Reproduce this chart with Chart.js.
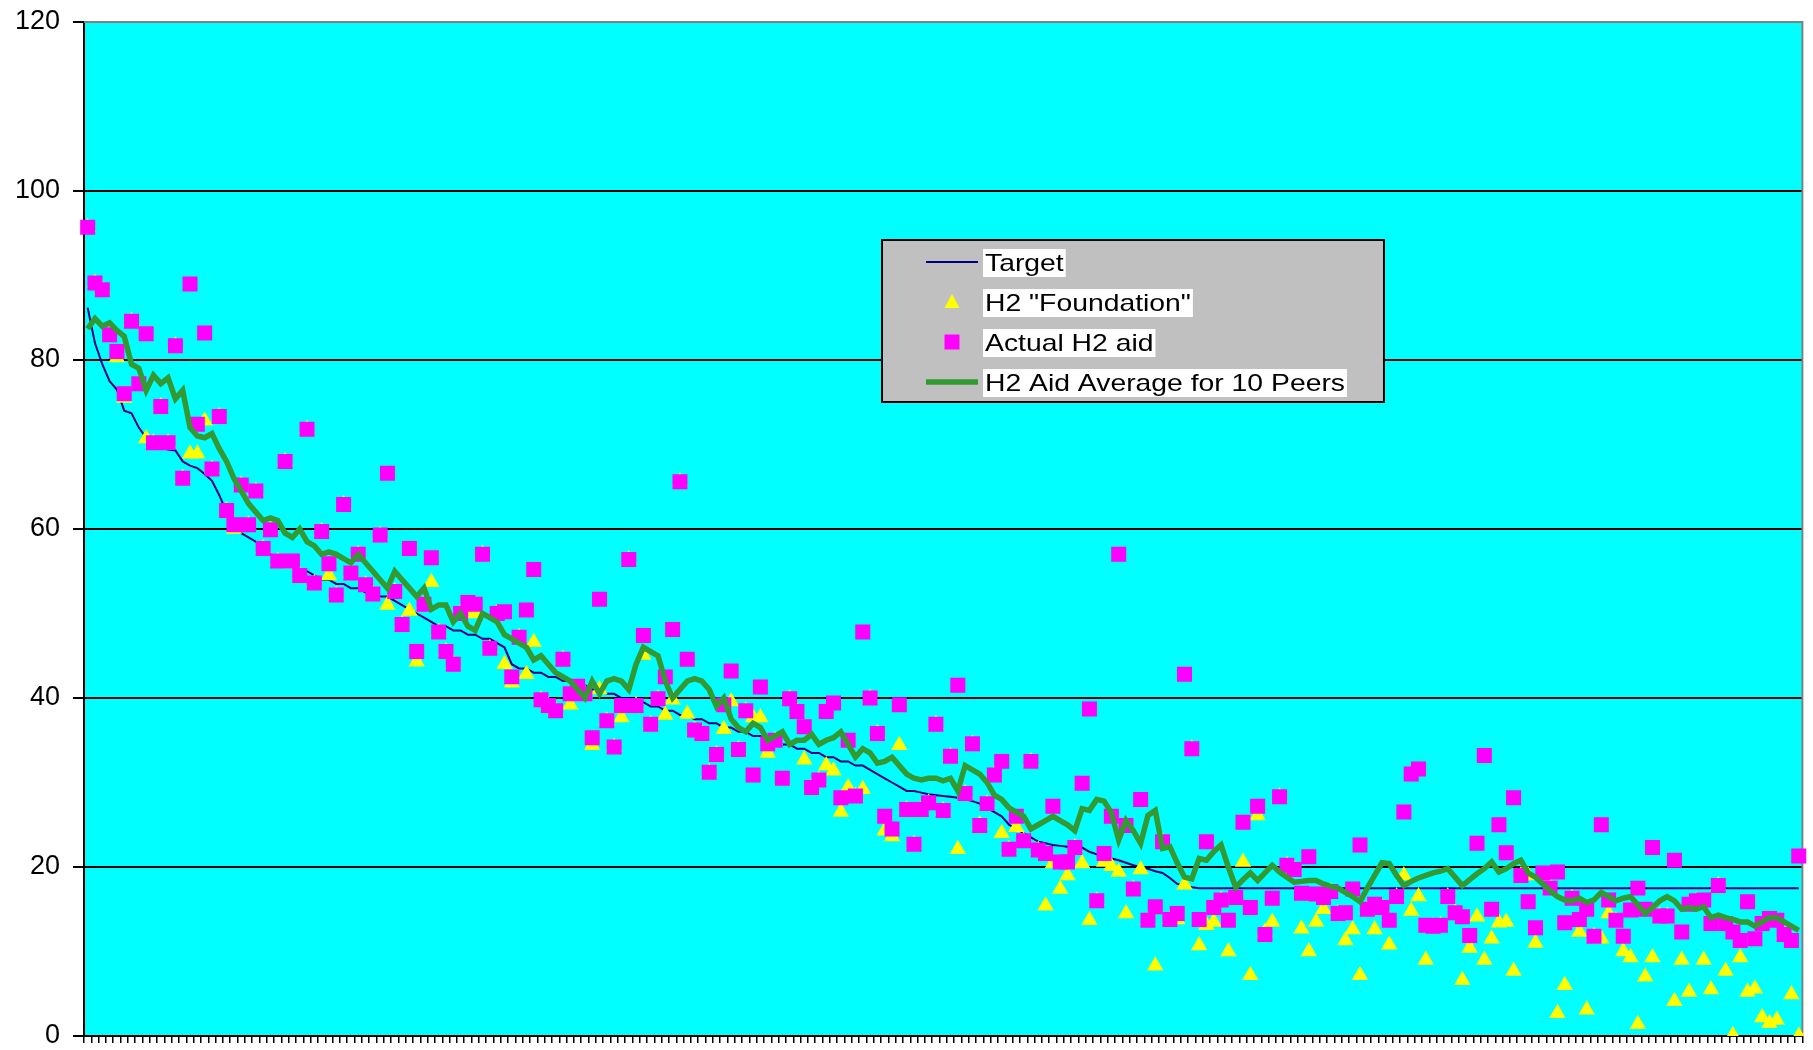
<!DOCTYPE html>
<html>
<head>
<meta charset="utf-8">
<script src="https://cdn.jsdelivr.net/npm/chart.js@4.4.1/dist/chart.umd.min.js"></script>
<style>
html,body{margin:0;padding:0;background:#ffffff;overflow:hidden;}
#wrap{width:1813px;height:1050px;position:relative;}
</style>
</head>
<body>
<div id="wrap"><canvas id="c"></canvas></div>
<script>
// ---------------- DATA ----------------
const seriesNames = ['Target', 'H2 "Foundation"', 'Actual H2 aid', 'H2 Aid Average for 10 Peers'];
const yTicks = [0, 20, 40, 60, 80, 100, 120];

const target = [
86.2, 82, 79.5, 77.5, 76.5, 74, 73.7, 72, 70.8, 70,
69.6, 69.4, 69.3, 68, 67.5, 67.2, 66.5, 65.7, 64, 62,
60.5, 59.5, 59, 58.5, 57.5, 57, 56.5, 56, 55.5, 55,
55, 54.5, 54, 54, 53.5, 53.5, 53, 53, 52.5, 52.5,
52, 52, 51.5, 51, 50.5, 50, 49.5, 49, 48.5, 48.5,
48, 48, 47.5, 47.5, 47, 47, 46.5, 46, 44, 43.5,
43.5, 43, 43, 42.5, 42.5, 42, 42, 41.5, 41.5, 41,
41, 40.5, 40.5, 40, 40, 39.5, 39.5, 39, 39, 38.5,
38.5, 38, 38, 37.5, 37.5, 37, 37, 36.5, 36.5, 36,
36, 35.5, 35.5, 35, 35, 34.5, 34.5, 34, 34, 33.5,
33.5, 33, 33, 32.5, 32.5, 32, 32, 31.5, 31, 30.5,
30, 29.5, 29, 29, 28.8, 28.6, 28.5, 28.4, 28.3, 28.2,
28, 27.8, 27.5, 27, 26.5, 26, 25, 24.5, 24, 23.5,
23, 22.8, 22.6, 22.5, 22.4, 22.3, 22.3, 21.8, 21.5, 21.2,
21, 20.8, 20.5, 20.2, 20, 19.8, 19.5, 19.3, 18.7, 18,
17.8, 17.6, 17.5, 17.5, 17.5, 17.5, 17.5, 17.5, 17.5, 17.5,
17.5, 17.5, 17.5, 17.5, 17.5, 17.5, 17.5, 17.5, 17.5, 17.5,
17.5, 17.5, 17.5, 17.5, 17.5, 17.5, 17.5, 17.5, 17.5, 17.5,
17.5, 17.5, 17.5, 17.5, 17.5, 17.5, 17.5, 17.5, 17.5, 17.5,
17.5, 17.5, 17.5, 17.5, 17.5, 17.5, 17.5, 17.5, 17.5, 17.5,
17.5, 17.5, 17.5, 17.5, 17.5, 17.5, 17.5, 17.5, 17.5, 17.5,
17.5, 17.5, 17.5, 17.5, 17.5, 17.5, 17.5, 17.5, 17.5, 17.5,
17.5, 17.5, 17.5, 17.5, 17.5, 17.5, 17.5, 17.5, 17.5, 17.5,
17.5, 17.5, 17.5, 17.5, 17.5
];

const foundation = [
95.7, 89.1, 88.3, 83, 80.3, 75.5, 84.6, 77.2, 70.7, 70.2,
74.5, 70.2, 81.7, 66, 68.9, 68.9, 72.8, 67.1, 73.3, 62.2,
60, 65.2, 60.5, 64.5, 57.7, 59.9, 56.2, 68, 55.9, 54.5,
71.8, 53.6, 59.7, 54.5, 52.2, 62.9, 54.8, 57, 53.4, 52.3,
59.3, 51, 52.6, 48.7, 50.3, 44.3, 51.1, 53.7, 47.8, 45.5,
44, 50, 50.4, 50, 57, 45.9, 50, 44, 41.8, 47.2,
42.8, 46.6, 39.8, 39.1, 38.5, 44.6, 39.2, 41, 40.5, 34.4,
41, 37.3, 34.2, 37.7, 56.4, 39.1, 45.1, 36.9, 39.9, 38,
39.8, 65.6, 38.1, 36.2, 35.8, 31.2, 33.3, 36.3, 39.6, 33.9,
38.5, 37.7, 37.7, 33.5, 35, 30.3, 39.9, 38.4, 32.7, 29.4,
30.3, 32, 31.4, 26.5, 29.4, 28.4, 29.2, 40, 35.8, 24.3,
23.6, 34.4, 26.8, 22.7, 26.8, 27.6, 36.9, 26.7, 33.1, 22.1,
28.7, 34.6, 25, 27.5, 30.9, 24, 22.1, 24.7, 23.1, 32.5,
22, 15.4, 20.4, 17.4, 19, 22.3, 20.4, 13.7, 16, 20.6,
20.1, 19.4, 14.5, 17.4, 19.7, 13.7, 8.3, 23, 13.8, 13.8,
17.9, 34, 10.7, 13.1, 13.5, 16.1, 10, 16.4, 20.6, 7.2,
26.1, 12.3, 13.5, 28.3, 20.2, 19.7, 12.7, 10, 13.5, 15,
17.1, 14.5, 11.3, 12.6, 7.2, 15, 12.6, 15.2, 10.8, 16.5,
19, 14.8, 16.5, 9, 13, 13.1, 16.5, 14.6, 6.6, 10.4,
14.1, 9, 11.5, 13.4, 13.5, 7.7, 19, 19, 11, 19,
17.5, 2.7, 6, 16.3, 12.3, 3.1, 11.8, 11.5, 14.5, 13.7,
10, 9.3, 1.4, 7, 9.3, 14.2, 14.2, 4.1, 9, 5.2,
16, 9, 5.5, 17.8, 7.7, 0.1, 9.3, 5.2, 5.6, 2.2,
1.5, 1.9, 12, 4.9, 0
];

const actual = [
95.7, 89.1, 88.3, 83, 81, 76, 84.6, 77.2, 83.1, 70.2,
74.5, 70.2, 81.7, 66, 89, 72.4, 83.2, 67.1, 73.3, 62.2,
60.5, 65.2, 60.5, 64.5, 57.7, 59.9, 56.2, 68, 56.2, 54.5,
71.8, 53.6, 59.7, 55.9, 52.2, 62.9, 54.8, 57, 53.4, 52.3,
59.3, 66.6, 52.6, 48.7, 57.7, 45.5, 51.1, 56.6, 47.8, 45.5,
44, 50, 51.3, 51.1, 57, 45.9, 50, 50.2, 42.5, 47.2,
50.4, 55.2, 39.8, 39.1, 38.5, 44.6, 40.5, 41.4, 40.5, 35.3,
51.7, 37.3, 34.2, 39.1, 56.4, 39.1, 47.4, 36.9, 39.9, 42.5,
48.1, 65.6, 44.6, 36.2, 35.8, 31.2, 33.3, 39.2, 43.2, 33.9,
38.5, 30.9, 41.3, 34.6, 35, 30.5, 39.9, 38.4, 36.6, 29.4,
30.3, 38.4, 39.4, 28.2, 35, 28.4, 47.8, 40, 35.8, 26,
24.5, 39.2, 26.8, 22.7, 26.8, 27.6, 36.9, 26.7, 33.1, 41.5,
28.7, 34.6, 24.9, 27.5, 30.9, 32.5, 22.1, 26, 23.1, 32.5,
22, 21.6, 27.2, 20.6, 20.6, 22.3, 29.9, 38.7, 16, 21.6,
26, 57, 24.9, 17.4, 28, 13.7, 15.3, 23, 13.8, 14.5,
42.8, 34, 13.8, 23, 15.2, 16.1, 13.7, 16.4, 25.3, 15.2,
27.2, 12, 16.3, 28.3, 20.2, 19.7, 16.9, 21.2, 16.8, 16.4,
17.1, 14.5, 14.6, 17.4, 22.6, 15, 15.6, 15.2, 13.7, 16.5,
26.5, 31, 31.6, 13.1, 13, 13.1, 16.5, 14.6, 14.1, 11.9,
22.8, 33.2, 15, 25, 21.7, 28.2, 19, 15.9, 12.8, 19.3,
17.5, 19.4, 13.4, 16.3, 13.8, 15, 11.8, 25, 16.1, 13.7,
11.8, 14.9, 17.5, 15, 22.3, 14.2, 14.2, 20.8, 12.3, 15.6,
16, 16.1, 13.3, 17.8, 13.3, 12.3, 11.3, 15.9, 11.5, 13.3,
13.9, 13.7, 12, 11.3, 21.3
];

const average = [
83.7, 84.9, 84, 84.4, 83.5, 82.8, 79.5, 79, 76.4, 78.2,
77.2, 77.9, 75.4, 76.4, 72, 71, 70.8, 71.3, 69.5, 68,
66, 64.5, 63, 62, 61, 61.3, 61, 59.5, 59, 60,
58.5, 58, 57, 57.3, 57, 56.5, 56, 57, 56, 55,
54, 53, 55, 54, 53, 52, 53, 50.5, 51, 51,
49, 50, 48.5, 48, 50, 49.5, 49, 47.5, 47, 46.5,
46, 44.5, 45, 44, 43, 42.5, 42, 41, 40, 42,
40.5, 42, 42.3, 42, 41, 44, 46, 45.5, 45, 42,
40, 41, 42, 42.3, 42, 41, 39, 40, 37.5, 36.5,
36, 37, 36.5, 35, 35.5, 36, 34.5, 35, 35, 35.7,
34.5, 35, 35.3, 36, 34.5, 33, 34, 33.5, 32.3, 32.5,
33, 32, 31, 30.5, 30.3, 30.5, 30.5, 30.2, 30.5, 29,
32, 31.5, 31, 30, 28.5, 28, 27, 26.5, 26, 24.5,
25, 25.5, 26, 25.5, 25, 24.3, 26.9, 26.7, 28, 27.8,
26.4, 23.2, 25.5, 24.3, 22.8, 26.1, 26.7, 22.2, 22.4, 20.5,
18.8, 18.6, 21, 20.8, 21.8, 22.6, 20, 17.6, 18.5, 19.3,
18.4, 19.3, 20.2, 19.4, 18.8, 18.2, 18.3, 18.4, 18.4, 18,
17.7, 17.5, 17, 16.5, 15.9, 17.5, 19, 20.5, 20.4, 19,
17.8, 18.3, 18.7, 19, 19.3, 19.5, 19.8, 18.8, 17.8, 18.5,
19.2, 19.8, 20.6, 19.4, 19.8, 20.4, 20.8, 19.3, 18.8, 18,
17.2, 16.5, 16.1, 16, 16.3, 15.8, 16.1, 17, 16.5, 16,
16.3, 16.5, 15.5, 14.5, 15.2, 16, 16.5, 16, 15, 15.2,
15, 15.3, 14, 14.3, 14, 13.8, 13.5, 13.5, 13, 13.5,
14, 14, 13.5, 13, 12.5
];

// category labels (peer districts, unlabeled on the axis)
const categories = target.map((_, i) => String(i + 1));

// ---------------- STYLE ----------------
const FONT = '"Liberation Sans", Arial, Helvetica, sans-serif';
const COLORS = { target: '#000080', foundation: '#FFFF00', actual: '#FF00FF', average: '#339933' };

const plotBg = {
  id: 'plotBg',
  beforeDraw(chart) {
    const { ctx, chartArea: a } = chart;
    ctx.save();
    ctx.fillStyle = '#00FFFF';
    ctx.fillRect(a.left, a.top, a.right - a.left, a.bottom - a.top);
    ctx.restore();
  },
  beforeDatasetsDraw(chart) {
    const { ctx, chartArea: a } = chart;
    ctx.save();
    ctx.strokeStyle = '#808080';
    ctx.lineWidth = 2;
    ctx.beginPath();
    ctx.moveTo(a.left, a.top);
    ctx.lineTo(a.right, a.top);
    ctx.lineTo(a.right, a.bottom);
    ctx.stroke();
    ctx.restore();
  }
};

const boxLegend = {
  id: 'boxLegend',
  afterDraw(chart) {
    const ctx = chart.ctx;
    const bx = 882, by = 240, bw = 502, bh = 162;
    ctx.save();
    ctx.fillStyle = '#C0C0C0';
    ctx.fillRect(bx, by, bw, bh);
    ctx.strokeStyle = '#000';
    ctx.lineWidth = 2;
    ctx.strokeRect(bx, by, bw, bh);
    const rows = [262, 302, 342, 382];
    const sx0 = 926, sx1 = 978, sc = 952, tx = 985;
    const sxScale = 1.18;
    ctx.font = '24px ' + FONT;
    ctx.textBaseline = 'middle';
    ctx.textAlign = 'left';
    chart.data.datasets.forEach((ds, k) => {
      const y = rows[k];
      if (k === 0 || k === 3) {
        ctx.strokeStyle = ds.borderColor;
        ctx.lineWidth = k === 0 ? 2 : 5.5;
        ctx.beginPath();
        ctx.moveTo(sx0, y);
        ctx.lineTo(sx1, y);
        ctx.stroke();
      } else if (k === 1) {
        ctx.fillStyle = ds.backgroundColor;
        ctx.beginPath();
        ctx.moveTo(sc, y - 8);
        ctx.lineTo(sc + 7.5, y + 6);
        ctx.lineTo(sc - 7.5, y + 6);
        ctx.closePath();
        ctx.fill();
      } else {
        ctx.fillStyle = ds.backgroundColor;
        ctx.fillRect(sc - 7.5, y - 7.5, 15, 15);
      }
      const w = ctx.measureText(ds.label).width * sxScale;
      ctx.fillStyle = '#FFFFFF';
      ctx.fillRect(tx - 2, y - 13, w + 4, 28);
      ctx.save();
      ctx.translate(tx, y + 2);
      ctx.scale(sxScale, 1);
      ctx.fillStyle = '#000000';
      ctx.fillText(ds.label, 0, 0);
      ctx.restore();
    });
    ctx.restore();
  }
};

new Chart(document.getElementById('c'), {
  type: 'line',
  data: {
    labels: categories,
    datasets: [
      { label: seriesNames[0], data: target, borderColor: COLORS.target, backgroundColor: COLORS.target,
        borderWidth: 2, pointRadius: 0, tension: 0, fill: false, order: 3 },
      { label: seriesNames[1], data: foundation, showLine: false, pointStyle: 'triangle', pointRadius: 9.5,
        backgroundColor: COLORS.foundation, borderColor: COLORS.foundation, pointBorderWidth: 0, order: 2 },
      { label: seriesNames[2], data: actual, showLine: false, pointStyle: 'rect', pointRadius: 10.6,
        backgroundColor: COLORS.actual, borderColor: COLORS.actual, pointBorderWidth: 0, order: 1 },
      { label: seriesNames[3], data: average, borderColor: COLORS.average, backgroundColor: COLORS.average,
        borderWidth: 5.5, pointRadius: 0, tension: 0, fill: false, order: 0 }
    ]
  },
  options: {
    responsive: true,
    maintainAspectRatio: false,
    animation: false,
    events: [],
    layout: { padding: { top: 22, right: 8, left: 0, bottom: 0 } },
    plugins: { legend: { display: false }, tooltip: { enabled: false } },
    scales: {
      x: {
        type: 'category',
        offset: true,
        ticks: { display: false, autoSkip: false },
        grid: { offset: true, drawOnChartArea: false, drawTicks: true, tickLength: 7, color: '#000', lineWidth: 1.5 },
        border: { display: true, color: '#000', width: 2 },
        afterFit(s) { s.height = 14; }
      },
      y: {
        min: 0,
        max: 120,
        afterBuildTicks(s) { s.ticks = yTicks.map(v => ({ value: v })); },
        ticks: { color: '#000', font: { family: FONT, size: 27, lineHeight: 0.05 }, padding: 13 },
        grid: {
          color: c => (c.tick && c.tick.value === 120) ? '#808080' : '#000',
          tickColor: '#000',
          lineWidth: 2,
          tickLength: 11,
          drawTicks: true
        },
        border: { display: true, color: '#000', width: 2 },
        afterFit(s) { s.width = 84; }
      }
    }
  },
  plugins: [plotBg, boxLegend]
});
</script>
</body>
</html>
